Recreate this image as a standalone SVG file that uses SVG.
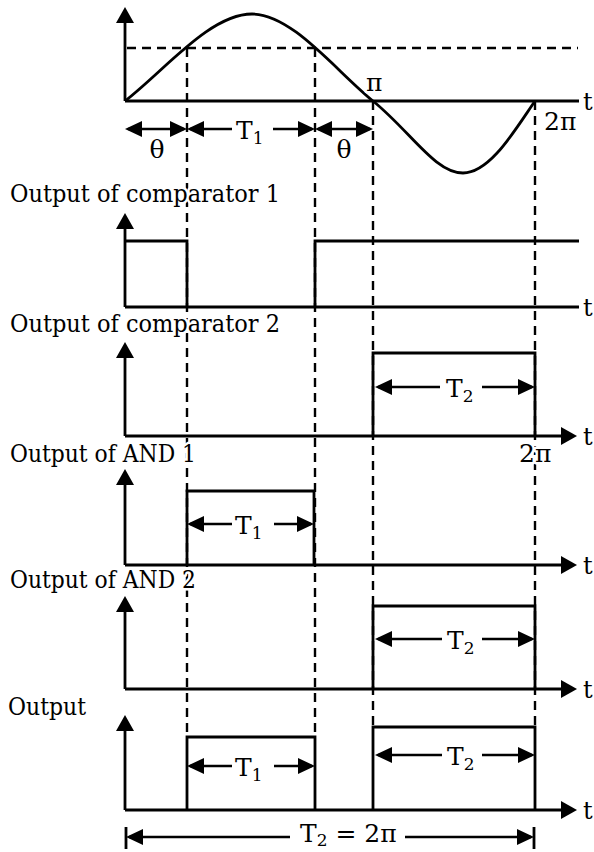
<svg xmlns="http://www.w3.org/2000/svg" width="594" height="852" viewBox="0 0 594 852">
<defs>
<marker id="ax" markerUnits="userSpaceOnUse" markerWidth="16" markerHeight="18" viewBox="0 0 16 18" refX="6" refY="9" orient="auto"><path d="M0,0 L16,9 L0,18 z" fill="#000"/></marker>
<marker id="dh" markerUnits="userSpaceOnUse" markerWidth="17" markerHeight="16" viewBox="0 0 17 16" refX="14" refY="8" orient="auto-start-reverse"><path d="M0,0 L17,8 L0,16 z" fill="#000"/></marker>
<style>
.ln{stroke:#000;stroke-width:2.8;fill:none}
.dl{stroke:#000;stroke-width:2.4;fill:none;marker-end:url(#dh)}
.dd{stroke:#000;stroke-width:2.4;fill:none;marker-start:url(#dh);marker-end:url(#dh)}
.ax{stroke:#000;stroke-width:2.8;fill:none;marker-end:url(#ax)}
.da{stroke:#000;stroke-width:2.4;fill:none;stroke-dasharray:9 6}
text{font-family:"DejaVu Serif","Liberation Serif",serif;fill:#000;paint-order:stroke;stroke:#fff;stroke-width:5;stroke-linejoin:round}
.lbl{font-size:24px}
.sym{font-size:25px}
.tl{font-size:24px;stroke-width:0}
.sub{font-size:17px}
</style>
</defs>
<rect width="594" height="852" fill="#fff"/>

<g id="guides">
<path class="da" d="M127,48 H578"/>
<path class="da" d="M187,48 V737"/>
<path class="da" d="M315,48 V737"/>
<path class="da" d="M373,101 V727"/>
<path class="da" d="M535,101 V727"/>
</g>

<g id="input-wave">
<path class="ax" d="M125,101 V17"/>
<path class="ln" d="M125,101 H579"/>
<path class="ln" d="M125,101 C165,70 210,14 252,14 C292,14 335,70 373,101 C411,132 435,173 463,173 C490,173 515,130 535,101"/>
<text class="tl" x="583" y="110">t</text>
<text class="sym" x="366" y="91">π</text>
<text class="sym" x="544" y="130">2π</text>
<path class="dd" d="M128,129 H184"/>
<path class="dl" d="M232,129 H190"/>
<path class="dl" d="M273,129 H312"/>
<path class="dd" d="M318,129 H370"/>
<text class="sym" x="157" y="158" text-anchor="middle">θ</text>
<text class="sym" x="344" y="158" text-anchor="middle">θ</text>
<text class="sym" x="236" y="139">T<tspan class="sub" dy="5">1</tspan></text>
</g>

<g id="comparator1">
<text class="lbl" x="10" y="202" textLength="270" lengthAdjust="spacingAndGlyphs">Output of comparator 1</text>
<path class="ax" d="M125,307 V223"/>
<path class="ln" d="M125,307 H579"/>
<path class="ln" d="M125,241 H187 V307"/>
<path class="ln" d="M315,307 V241 H579"/>
<text class="tl" x="583" y="316">t</text>
</g>

<g id="comparator2">
<text class="lbl" x="10" y="332" textLength="270" lengthAdjust="spacingAndGlyphs">Output of comparator 2</text>
<path class="ax" d="M125,436 V352"/>
<path class="ax" d="M125,436 H567"/>
<path class="ln" d="M373,436 V353 H535 V436"/>
<path class="dl" d="M440,387 H378"/>
<path class="dl" d="M482,387 H532"/>
<text class="sym" x="446" y="397">T<tspan class="sub" dy="5">2</tspan></text>
<text class="tl" x="583" y="445">t</text>
<text class="sym" x="519" y="462">2π</text>
</g>

<g id="and1">
<text class="lbl" x="10" y="462" textLength="186" lengthAdjust="spacingAndGlyphs">Output of AND 1</text>
<path class="ax" d="M125,565 V479"/>
<path class="ax" d="M125,565 H567"/>
<path class="ln" d="M187,565 V491 H314 V565"/>
<path class="dl" d="M232,524 H190"/>
<path class="dl" d="M274,524 H311"/>
<text class="sym" x="235" y="534">T<tspan class="sub" dy="5">1</tspan></text>
<text class="tl" x="583" y="574">t</text>
</g>

<g id="and2">
<text class="lbl" x="10" y="588" textLength="186" lengthAdjust="spacingAndGlyphs">Output of AND 2</text>
<path class="ax" d="M125,689 V606"/>
<path class="ax" d="M125,689 H567"/>
<path class="ln" d="M373,689 V606 H535 V689"/>
<path class="dl" d="M442,639 H378"/>
<path class="dl" d="M482,639 H532"/>
<text class="sym" x="447" y="649">T<tspan class="sub" dy="5">2</tspan></text>
<text class="tl" x="583" y="698">t</text>
</g>

<g id="output">
<text class="lbl" x="8" y="715" textLength="78" lengthAdjust="spacingAndGlyphs">Output</text>
<path class="ax" d="M125,810 V725"/>
<path class="ax" d="M125,810 H567"/>
<path class="ln" d="M187,810 V737 H315 V810"/>
<path class="ln" d="M373,810 V727 H535 V810"/>
<path class="dl" d="M232,766 H190"/>
<path class="dl" d="M274,766 H312"/>
<text class="sym" x="235" y="776">T<tspan class="sub" dy="5">1</tspan></text>
<path class="dl" d="M442,755 H378"/>
<path class="dl" d="M482,755 H532"/>
<text class="sym" x="447" y="765">T<tspan class="sub" dy="5">2</tspan></text>
<text class="tl" x="583" y="819">t</text>
</g>

<g id="period">
<path class="ln" d="M126,827 V849"/>
<path class="ln" d="M534,827 V849"/>
<path class="dl" d="M290,837 H129"/>
<path class="dl" d="M405,837 H531"/>
<text class="sym" x="300" y="842">T<tspan class="sub" dy="4">2</tspan><tspan dy="-4"> = 2π</tspan></text>
</g>
</svg>
